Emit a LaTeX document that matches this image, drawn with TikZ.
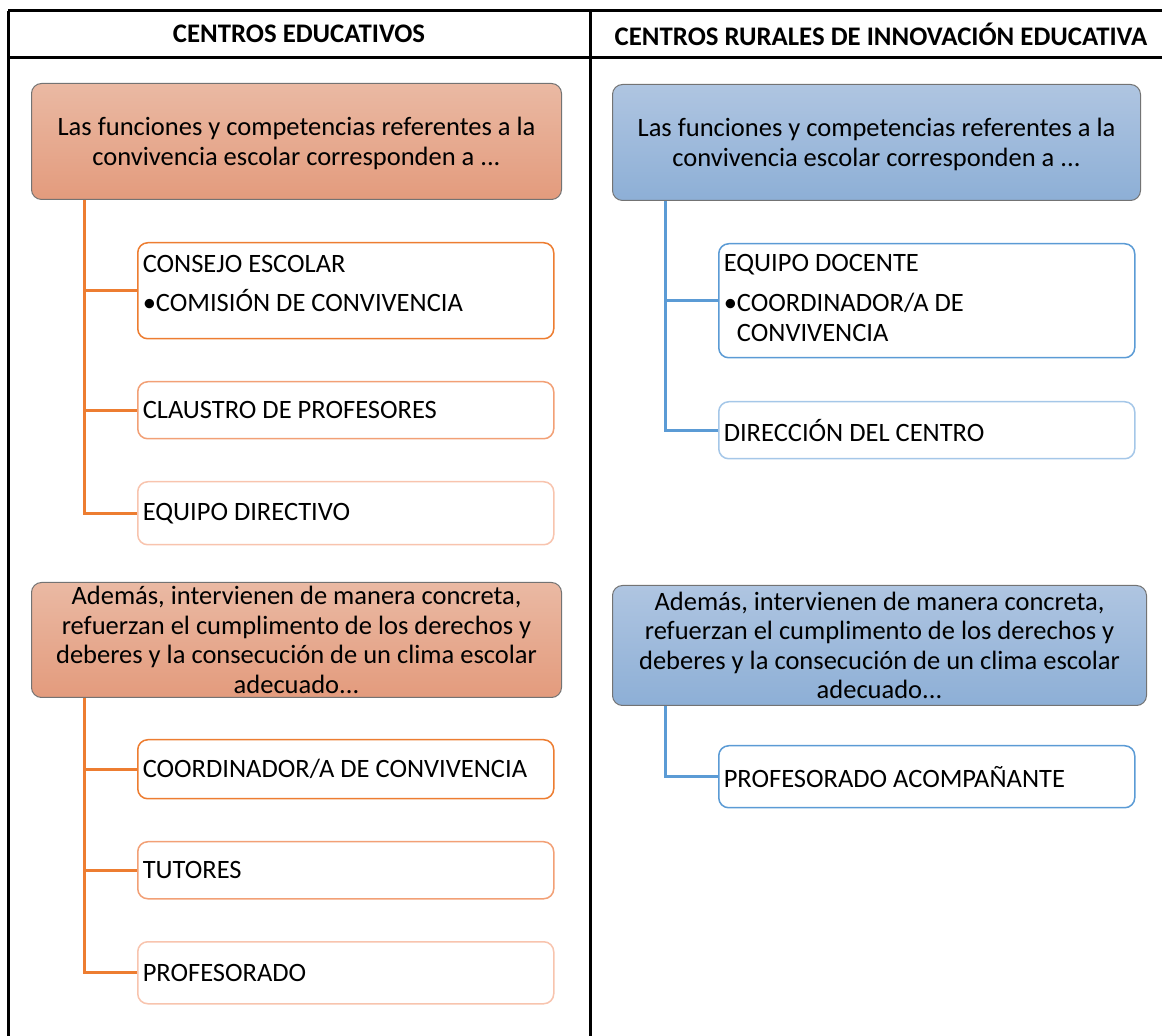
\documentclass[tikz,border=0pt]{standalone}
\usepackage{fontspec}
\setmainfont{Carlito}
\usepackage{tikz}

\definecolor{orTop}{RGB}{234,185,163}
\definecolor{orBot}{RGB}{227,155,125}
\definecolor{blTop}{RGB}{175,197,225}
\definecolor{blBot}{RGB}{141,175,214}
\definecolor{orLine}{RGB}{237,125,49}
\definecolor{orMid}{RGB}{242,160,118}
\definecolor{orPale}{RGB}{248,196,174}
\definecolor{blLine}{RGB}{91,155,213}
\definecolor{blPale}{RGB}{165,199,232}

\tikzset{
  headtext/.style={font=\bfseries\fontsize{13.4}{16}\selectfont},
  bigbox/.style={anchor=north west,rounded corners=5pt,draw=black!55,line width=0.5pt,
    align=center,inner sep=0pt,font=\fontsize{13.25}{14.8}\selectfont},
  orbig/.style={bigbox,top color=orTop,bottom color=orBot},
  blbig/.style={bigbox,top color=blTop,bottom color=blBot},
  childbox/.style={anchor=north west,rounded corners=5pt,fill=white,line width=0.75pt,
    text width=203pt,inner xsep=2.5pt,inner ysep=0pt,align=flush left,
    font=\fontsize{13.25}{15}\selectfont},
  orline/.style={draw=orLine,line width=1.5pt},
  blline/.style={draw=blLine,line width=1.5pt}
}

\begin{document}
\begin{tikzpicture}[x=0.5pt,y=-0.5pt]
 \useasboundingbox (0,0) rectangle (1162,1036);
 \draw[line width=1.5pt] (8,11) -- (1170,11);
 \draw[line width=1.5pt] (8,58) -- (1170,58);
 \draw[line width=1.5pt] (8,11) -- (8,1040);
 \draw[line width=1.5pt] (590,11) -- (590,1040);
 \node[headtext] (h1) at (299,34) {CENTROS EDUCATIVOS};
 \node[headtext] (h2) at (881,34) {CENTROS RURALES DE INNOVACIÓN EDUCATIVA};

 \node[orbig,minimum width=265pt,minimum height=58pt,text depth=0pt] (o1) at (31,83)
  {Las funciones y competencias referentes a la\\convivencia escolar corresponden a ...};
 \node[childbox,draw=orLine,minimum height=48pt,text depth=27.3pt] (c1) at (137,242)
  {CONSEJO ESCOLAR\\[4.5pt]\textbullet COMISIÓN DE CONVIVENCIA};
 \node[childbox,draw=orMid,minimum height=28.5pt] (c2) at (137,381) {CLAUSTRO DE PROFESORES};
 \node[childbox,draw=orPale,minimum height=31.5pt] (c3) at (137,481) {EQUIPO DIRECTIVO};
 \draw[orline] ([xshift=26.5pt]o1.south west) |- (c1.west);
 \draw[orline] ([xshift=26.5pt]o1.south west) |- (c2.west);
 \draw[orline] ([xshift=26.5pt]o1.south west) |- (c3.west);

 \node[orbig,minimum width=265pt,minimum height=57.5pt] (o2) at (31,582)
  {Además, intervienen de manera concreta,\\refuerzan el cumplimento de los derechos y\\deberes y la consecución de un clima escolar\\adecuado...};
 \node[childbox,draw=orLine,minimum height=29.5pt] (c4) at (137,739) {COORDINADOR/A DE CONVIVENCIA};
 \node[childbox,draw=orMid,minimum height=28.5pt] (c5) at (137,841) {TUTORES};
 \node[childbox,draw=orPale,minimum height=31pt] (c6) at (137,941) {PROFESORADO};
 \draw[orline] ([xshift=26.5pt]o2.south west) |- (c4.west);
 \draw[orline] ([xshift=26.5pt]o2.south west) |- (c5.west);
 \draw[orline] ([xshift=26.5pt]o2.south west) |- (c6.west);

 \node[blbig,minimum width=264pt,minimum height=58pt,text depth=0pt] (b1) at (612,84)
  {Las funciones y competencias referentes a la\\convivencia escolar corresponden a ...};
 \node[childbox,draw=blLine,minimum height=57pt,text depth=38.3pt] (d1) at (718,243)
  {EQUIPO DOCENTE\\[5pt]\textbullet COORDINADOR/A DE\\\phantom{\textbullet}CONVIVENCIA};
 \node[childbox,draw=blPale,minimum height=28.5pt] (d2) at (718,401) {DIRECCIÓN DEL CENTRO};
 \draw[blline] ([xshift=26.5pt]b1.south west) |- (d1.west);
 \draw[blline] ([xshift=26.5pt]b1.south west) |- (d2.west);

 \node[blbig,minimum width=267pt,minimum height=60pt] (b2) at (612,585)
  {Además, intervienen de manera concreta,\\refuerzan el cumplimento de los derechos y\\deberes y la consecución de un clima escolar\\adecuado...};
 \node[childbox,draw=blLine,minimum height=31pt] (d3) at (718,745) {PROFESORADO ACOMPAÑANTE};
 \draw[blline] ([xshift=26.5pt]b2.south west) |- (d3.west);
\end{tikzpicture}
\end{document}
